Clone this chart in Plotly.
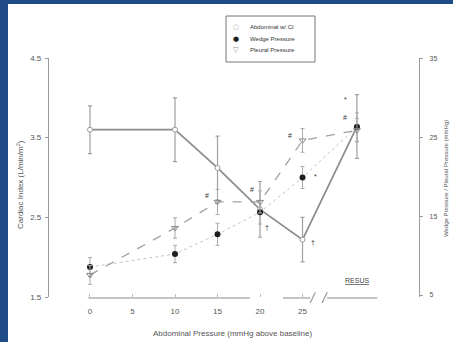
import plotly.graph_objects as go

# ---------------- data ----------------
x_pos = [0, 10, 15, 20, 25, 31.4]          # last point = RESUS
x_tickvals = [0, 5, 10, 15, 20, 25]
x_ticktext = ["0", "5", "10", "15", "20", "25"]

cardiac_index = [3.6, 3.6, 3.12, 2.6, 2.22, 3.64]
cardiac_err = [0.3, 0.4, 0.4, 0.35, 0.28, 0.4]

wedge_pressure = [8.55, 10.2, 12.7, 15.5, 19.9, 26.3]
wedge_err = [1.2, 1.1, 1.4, 1.5, 1.4, 1.8]

pleural_pressure = [7.55, 13.5, 16.8, 16.8, 24.6, 25.9]
pleural_err = [1.2, 1.3, 1.6, 1.4, 1.5, 1.5]

left_ticks = [1.5, 2.5, 3.5, 4.5]
right_ticks = [5, 15, 25, 35]

legend_names = ["Abdominal w/ CI", "Wedge Pressure", "Pleural Pressure"]
legend_symbols = ["○", "●", "▽"]

FONT = "Arial, Liberation Sans, sans-serif"
AX = "#9a9a9a"
TXT = "#555555"

def px(xp):
    return (xp - 49) / 370

def py(yp):
    return (297 - yp) / 239

fig = go.Figure()

# cardiac index (left axis)
fig.add_trace(go.Scatter(
    x=x_pos, y=cardiac_index, mode="lines+markers", name=legend_names[0], showlegend=False,
    line=dict(color="#8c8c8c", width=1.7),
    marker=dict(symbol="circle", size=5, color="white", line=dict(color="#9a9a9a", width=1)),
    error_y=dict(type="data", array=cardiac_err, color="#a0a0a0", thickness=1.2, width=2),
))
# wedge pressure (right axis)
fig.add_trace(go.Scatter(
    x=x_pos, y=wedge_pressure, mode="lines+markers", yaxis="y2", name=legend_names[1],
    showlegend=False,
    line=dict(color="#c4c4c4", width=1, dash="dot"),
    marker=dict(symbol="circle", size=6, color="#1e1e1e"),
    error_y=dict(type="data", array=wedge_err, color="#ababab", thickness=1, width=2),
))
# pleural pressure (right axis)
fig.add_trace(go.Scatter(
    x=x_pos, y=pleural_pressure, mode="lines+markers", yaxis="y2", name=legend_names[2],
    showlegend=False,
    line=dict(color="#a0a0a0", width=1.3, dash="dash"),
    marker=dict(symbol="triangle-down-open", size=6, color="#8a8a8a", line=dict(width=1)),
    error_y=dict(type="data", array=pleural_err, color="#ababab", thickness=1, width=2),
))

shapes = [
    # broken x-axis line and break marks
    dict(type="line", xref="x", yref="paper", x0=-0.2, x1=18.8, y0=-0.004, y1=-0.004,
         line=dict(color="#b0b0b0", width=1.5)),
    dict(type="line", xref="x", yref="paper", x0=22.7, x1=25.9, y0=-0.004, y1=-0.004,
         line=dict(color="#b0b0b0", width=1.5)),
    dict(type="line", xref="x", yref="paper", x0=27.9, x1=33.8, y0=-0.004, y1=-0.004,
         line=dict(color="#b0b0b0", width=1.5)),
    dict(type="line", xref="x", yref="paper", x0=25.9, x1=26.5, y0=-0.025, y1=0.02,
         line=dict(color="#999999", width=1.2)),
    dict(type="line", xref="x", yref="paper", x0=27.3, x1=27.9, y0=-0.025, y1=0.02,
         line=dict(color="#999999", width=1.2)),
    # legend frame
    dict(type="rect", xref="paper", yref="paper", x0=px(226), x1=px(315), y0=py(62), y1=py(16),
         line=dict(color="#777777", width=1), fillcolor="white"),
    # blue frame of the scan
    dict(type="rect", xref="paper", yref="paper", x0=px(0), x1=px(8), y0=py(342), y1=py(0),
         fillcolor="#1f4b88", line=dict(width=0), layer="above"),
    dict(type="rect", xref="paper", yref="paper", x0=px(0), x1=px(453), y0=py(4), y1=py(0),
         fillcolor="#1f4b88", line=dict(width=0), layer="above"),
]

ann = []
def sym(x, y, t, size=7):
    ann.append(dict(x=x, y=y, xref="x", yref="y", text=t, showarrow=False,
                    font=dict(size=size, color="#333333", family=FONT)))

sym(13.8, 2.78, "#")
sym(19.1, 2.85, "#")
sym(23.5, 3.53, "#")
sym(26.5, 3.01, "*")
sym(20.8, 2.37, "†")
sym(26.2, 2.19, "†")
sym(30.0, 3.98, "*")
sym(30.0, 3.75, "#")

# manual legend (compact like the reference)
legend_rows = [27, 38.5, 50]
sym_colors = ["#999999", "#1e1e1e", "#8a8a8a"]
for name, s, c, r in zip(legend_names, legend_symbols, sym_colors, legend_rows):
    ann.append(dict(x=px(236), y=py(r), xref="paper", yref="paper", text=s, showarrow=False,
                    xanchor="center", yanchor="middle",
                    font=dict(size=7, color=c, family="DejaVu Sans")))
    ann.append(dict(x=px(248), y=py(r), xref="paper", yref="paper", text=name, showarrow=False,
                    xanchor="left", yanchor="middle",
                    font=dict(size=6, color="#333333", family=FONT)))

ann.append(dict(x=31.4, y=py(280), xref="x", yref="paper", text="<u>RESUS</u>",
                showarrow=False, xanchor="center", yanchor="middle",
                font=dict(size=7, color="#444444", family=FONT)))
ann.append(dict(x=px(233), y=py(333), xref="paper", yref="paper",
                text="Abdominal Pressure (mmHg above baseline)", showarrow=False,
                xanchor="center", yanchor="middle",
                font=dict(size=8, color=TXT, family=FONT)))
ann.append(dict(x=px(20), y=py(185), xref="paper", yref="paper",
                text="Cardiac Index (L/min/m<sup>2</sup>)", textangle=-90, showarrow=False,
                xanchor="center", yanchor="middle",
                font=dict(size=8, color=TXT, family=FONT)))
ann.append(dict(x=px(446), y=py(178), xref="paper", yref="paper",
                text="Wedge Pressure / Pleural Pressure (mmHg)", textangle=-90, showarrow=False,
                xanchor="center", yanchor="middle",
                font=dict(size=6, color=TXT, family=FONT)))

fig.update_layout(
    width=453, height=342,
    margin=dict(l=49, r=34, t=58, b=45),
    paper_bgcolor="white", plot_bgcolor="white",
    font=dict(family=FONT, color=TXT, size=8),
    shapes=shapes, annotations=ann, showlegend=False,
    xaxis=dict(range=[-4.82, 38.7], tickvals=x_tickvals, ticktext=x_ticktext,
               showline=False, showgrid=False, zeroline=False,
               ticks="inside", ticklen=3, tickcolor="#bbbbbb",
               ticklabelstandoff=8, tickfont=dict(size=8, color=TXT)),
    yaxis=dict(range=[1.5, 4.5], tickvals=left_ticks, ticktext=["1.5", "2.5", "3.5", "4.5"],
               showline=True, linecolor=AX, linewidth=1.2, showgrid=False, zeroline=False,
               ticks="outside", ticklen=3, tickcolor=AX, ticklabelstandoff=2,
               tickfont=dict(size=8, color=TXT)),
    yaxis2=dict(range=[4.75, 35.05], overlaying="y", side="right", tickvals=right_ticks,
                showline=True, linecolor=AX, linewidth=1.2, showgrid=False, zeroline=False,
                ticks="outside", ticklen=3, tickcolor=AX, ticklabelstandoff=5,
                tickfont=dict(size=7, color=TXT)),
)

fig.write_html(
    "out.html",
    config={"displayModeBar": False},
    post_script="document.body.style.margin='0';document.body.style.overflow='hidden';",
)
